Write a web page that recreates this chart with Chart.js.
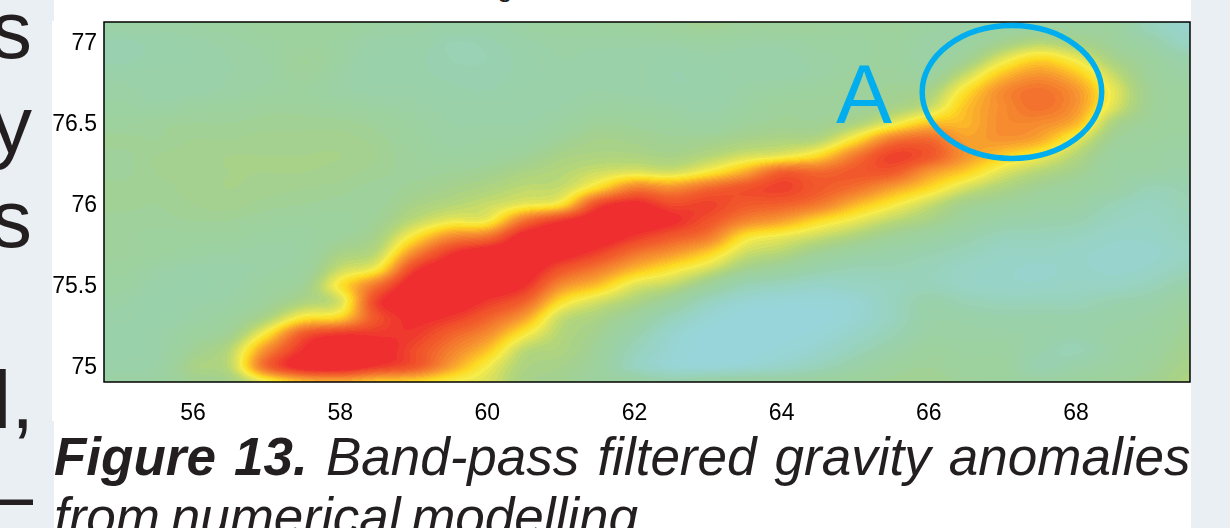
<!DOCTYPE html>
<html>
<head>
<meta charset="utf-8">
<title>Figure 13</title>
<script src="https://cdn.jsdelivr.net/npm/chart.js@4"></script>
<style>
html, body { margin: 0; padding: 0; background: #fff; overflow: hidden; }
#page { position: relative; width: 1230px; height: 528px; overflow: hidden; font-family: "Liberation Sans", Arial, sans-serif; color: #231f20; }
.side { position: absolute; background: #e9eff2; }
.txt { position: absolute; white-space: nowrap; line-height: 1; }
.big { font-size: 82px; }
.cap { font-size: 53px; font-style: italic; }
#chartBox { position: absolute; left: 0; top: 0; width: 1230px; height: 528px; }
</style>
</head>
<body>
<div id="page">
    <div class="side" style="left:0;top:0;width:54px;height:21px"></div>
    <div class="side" style="left:0;top:21px;width:52px;height:400px"></div>
    <div class="side" style="left:0;top:421px;width:54px;height:107px"></div>
    <div class="side" style="left:1191px;top:0;width:39px;height:528px"></div>

    <span class="txt big" style="left:-9px;top:-11px">s</span>
    <span class="txt big" style="left:-9px;top:84px">y</span>
    <span class="txt big" style="left:-9px;top:178px">s</span>
    <span class="txt big" style="left:-7px;top:359px">l,</span>
    <span class="txt big" style="left:-49px;top:454px">—</span>
    <span class="txt" style="left:497px;top:-27px;font-size:28px">g</span>

    <div id="chartBox"><canvas id="Chart1"></canvas></div>

    <span class="txt cap" id="capLine1" style="left:54px;top:430px;word-spacing:3.4px"><b>Figure 13.</b> Band-pass filtered gravity anomalies</span>
    <span class="txt cap" id="capLine2" style="left:54px;top:490px;word-spacing:-4px">from numerical modelling</span>
</div>

<script>
// tick labels
var xTicks = [56, 58, 60, 62, 64, 66, 68];
var yTicks = [75, 75.5, 76, 76.5, 77];

// grid positions
var gridX = [55, 55.5, 56, 56.5, 57, 57.5, 58, 58.5, 59, 59.5, 60, 60.5, 61, 61.5, 62, 62.5, 63, 63.5, 64, 64.5, 65, 65.5, 66, 66.5, 67, 67.5, 68, 68.5, 69, 69.5];
var gridY = [74.91, 75.01, 75.11, 75.21, 75.31, 75.41, 75.51, 75.61, 75.71, 75.81, 75.91, 76.01, 76.11, 76.21, 76.31, 76.41, 76.51, 76.61, 76.71, 76.81, 76.91, 77.01, 77.11];

// anomaly, one list per longitude, south to north (0 = blue, 100 = red)
var col550 = [24, 22, 20, 20, 22, 24, 26, 28, 30, 30, 30, 32, 32, 30, 30, 32, 28, 26, 24, 22, 18, 18, 24];
var col555 = [26, 24, 22, 22, 20, 20, 22, 24, 28, 28, 30, 31, 32, 33, 33, 31, 30, 24, 22, 22, 20, 20, 24];
var col560 = [32, 36, 32, 28, 24, 22, 20, 22, 26, 28, 31, 33, 34, 34, 34, 33, 31, 27, 22, 22, 21, 22, 25];
var col565 = [35, 42, 41, 33, 28, 24, 22, 22, 25, 28, 31, 34, 35, 35, 35, 33, 31, 28, 24, 23, 23, 24, 26];
var col570 = [50, 80, 72, 55, 38, 30, 27, 24, 24, 26, 29, 32, 34, 35, 35, 34, 32, 30, 26, 24, 25, 26, 28];
var col575 = [62, 98, 94, 84, 55, 38, 32, 28, 26, 26, 28, 31, 33, 35, 35, 34, 32, 30, 27, 30, 31, 28, 28];
var col580 = [65, 100, 100, 92, 60, 47, 55, 44, 36, 30, 28, 30, 32, 34, 35, 34, 32, 28, 24, 24, 26, 26, 28];
var col585 = [60, 92, 98, 92, 86, 90, 78, 54, 42, 36, 32, 30, 30, 32, 33, 32, 30, 26, 22, 20, 20, 22, 25];
var col590 = [58, 85, 88, 92, 95, 100, 100, 90, 72, 55, 42, 36, 32, 30, 29, 28, 26, 24, 22, 20, 20, 22, 24];
var col595 = [52, 68, 75, 82, 92, 100, 100, 100, 92, 72, 50, 40, 35, 31, 27, 24, 23, 22, 20, 18, 17, 17, 22];
var col600 = [47, 52, 62, 72, 82, 92, 100, 100, 100, 78, 52, 44, 38, 33, 28, 25, 23, 22, 19, 18, 17, 18, 22];
var col605 = [36, 38, 42, 54, 68, 82, 94, 100, 100, 98, 78, 50, 42, 37, 31, 26, 23, 22, 21, 20, 20, 22, 25];
var col610 = [33, 35, 38, 40, 44, 57, 72, 86, 98, 100, 92, 56, 44, 40, 36, 31, 26, 23, 22, 22, 23, 24, 27];
var col615 = [28, 28, 30, 33, 37, 46, 62, 76, 90, 100, 100, 88, 58, 45, 38, 35, 31, 26, 23, 22, 22, 24, 27];
var col620 = [26, 12, 14, 20, 28, 38, 48, 64, 78, 92, 100, 96, 75, 48, 38, 34, 30, 26, 22, 22, 22, 24, 28];
var col625 = [20, 4, 4, 6, 14, 28, 42, 55, 70, 84, 95, 88, 72, 46, 36, 32, 28, 24, 20, 19, 20, 24, 30];
var col630 = [24, 2, 0, 0, 4, 12, 30, 46, 60, 76, 86, 90, 80, 54, 40, 33, 26, 22, 20, 20, 22, 26, 32];
var col635 = [26, 4, 0, 0, 0, 4, 16, 34, 45, 56, 74, 84, 86, 66, 46, 36, 30, 26, 24, 22, 22, 24, 30];
var col640 = [26, 8, 2, 0, 0, 2, 12, 28, 40, 50, 68, 82, 90, 82, 50, 38, 32, 30, 26, 22, 22, 24, 30];
var col645 = [28, 14, 6, 2, 0, 2, 8, 20, 32, 44, 58, 76, 84, 80, 58, 40, 32, 30, 28, 24, 24, 26, 30];
var col650 = [30, 22, 14, 8, 4, 4, 10, 16, 26, 38, 50, 64, 78, 84, 76, 56, 38, 30, 30, 28, 26, 26, 28];
var col655 = [32, 28, 22, 16, 12, 12, 12, 16, 22, 31, 42, 54, 68, 84, 90, 76, 50, 36, 32, 30, 28, 28, 30];
var col660 = [33, 31, 28, 24, 22, 20, 14, 14, 18, 26, 36, 44, 58, 70, 85, 80, 62, 44, 36, 28, 24, 24, 26];
var col665 = [30, 28, 26, 24, 22, 16, 10, 10, 14, 20, 28, 34, 46, 60, 70, 68, 64, 62, 56, 44, 32, 26, 24];
var col670 = [28, 28, 26, 24, 20, 14, 8, 8, 10, 14, 22, 30, 38, 48, 60, 70, 72, 72, 72, 62, 48, 34, 26];
var col675 = [26, 18, 20, 22, 20, 14, 8, 6, 10, 14, 20, 26, 32, 40, 52, 66, 72, 78, 78, 70, 58, 40, 28];
var col680 = [28, 22, 16, 20, 20, 14, 10, 8, 8, 12, 18, 24, 28, 34, 40, 50, 64, 70, 70, 62, 50, 36, 28];
var col685 = [30, 26, 24, 24, 22, 18, 10, 6, 6, 8, 12, 16, 24, 26, 28, 32, 38, 48, 50, 44, 36, 30, 28];
var col690 = [33, 30, 28, 26, 24, 20, 14, 8, 6, 8, 10, 12, 16, 24, 26, 28, 30, 32, 32, 30, 28, 22, 14];
var col695 = [38, 36, 34, 32, 30, 26, 20, 14, 10, 12, 14, 16, 18, 22, 24, 26, 28, 28, 28, 24, 20, 10, 6];

var gridCols = [col550, col555, col560, col565, col570, col575, col580, col585, col590, col595,
    col600, col605, col610, col615, col620, col625, col630, col635, col640, col645,
    col650, col655, col660, col665, col670, col675, col680, col685, col690, col695];

// colour ramp
var rampVal = [0, 10, 20, 30, 35, 40, 48, 52, 58, 64, 70, 76, 82, 88, 94];
var rampCol = [[152, 213, 218], [152, 211, 196], [153, 209, 171], [158, 209, 155], [165, 209, 140], [180, 214, 122], [224, 226, 87], [246, 236, 74], [253, 219, 34], [251, 182, 42], [247, 149, 48], [244, 123, 46], [242, 96, 44], [240, 76, 43], [238, 46, 47]];

// circled area and its letter
var circleCenter = [67.13, 76.704];
var circleRadius = [1.22, 0.41];
var letterPos = [65.12, 76.512];
var letterText = 'A';
var markColor = '#00aeef';

function rampColor(v) {
    // contour bands, like the original plot
    v = Math.round(v / 2) * 2;
    if (v <= rampVal[0]) return rampCol[0];
    for (var i = 1; i < rampVal.length; i++) {
        if (v <= rampVal[i]) {
            var t = (v - rampVal[i - 1]) / (rampVal[i] - rampVal[i - 1]);
            var a = rampCol[i - 1], b = rampCol[i];
            return [a[0] + (b[0] - a[0]) * t, a[1] + (b[1] - a[1]) * t, a[2] + (b[2] - a[2]) * t];
        }
    }
    return rampCol[rampCol.length - 1];
}

function cr(p0, p1, p2, p3, t) {
    return p1 + 0.5 * t * (p2 - p0 + t * (2 * p0 - 5 * p1 + 4 * p2 - p3 + t * (3 * (p1 - p2) + p3 - p0)));
}

function pos(arr, val) {
    var step = arr[1] - arr[0];
    var f = (val - arr[0]) / step;
    return Math.max(0, Math.min(arr.length - 1, f));
}

function sample(x, y) {
    var fx = pos(gridX, x), fy = pos(gridY, y);
    var ix = Math.min(Math.floor(fx), gridX.length - 2), iy = Math.min(Math.floor(fy), gridY.length - 2);
    var tx = fx - ix, ty = fy - iy;
    var rows = [];
    for (var k = -1; k <= 2; k++) {
        var j = Math.max(0, Math.min(gridY.length - 1, iy + k));
        var c = [];
        for (var m = -1; m <= 2; m++) {
            var i = Math.max(0, Math.min(gridX.length - 1, ix + m));
            c.push(gridCols[i][j]);
        }
        rows.push(cr(c[0], c[1], c[2], c[3], tx));
    }
    return cr(rows[0], rows[1], rows[2], rows[3], ty);
}

// paints the gridded field under the frame, going through the chart scales
var heatPlugin = {
    id: 'heat',
    beforeDatasetsDraw: function (chart) {
        var ctx = chart.ctx, area = chart.chartArea;
        var xs = chart.scales.x, ys = chart.scales.y;
        var w = Math.round(area.right - area.left), h = Math.round(area.bottom - area.top);
        var img = ctx.createImageData(w, h);
        for (var py = 0; py < h; py++) {
            var yVal = ys.getValueForPixel(area.top + py + 0.5);
            for (var px = 0; px < w; px++) {
                var xVal = xs.getValueForPixel(area.left + px + 0.5);
                var col = rampColor(sample(xVal, yVal));
                var o = (py * w + px) * 4;
                img.data[o] = col[0];
                img.data[o + 1] = col[1];
                img.data[o + 2] = col[2];
                img.data[o + 3] = 255;
            }
        }
        ctx.putImageData(img, Math.round(area.left), Math.round(area.top));
    },
    afterDatasetsDraw: function (chart) {
        var ctx = chart.ctx, area = chart.chartArea;
        var xs = chart.scales.x, ys = chart.scales.y;
        ctx.save();
        ctx.strokeStyle = '#000';
        ctx.lineWidth = 1.5;
        ctx.strokeRect(area.left, area.top, area.right - area.left, area.bottom - area.top);

        var cx = xs.getPixelForValue(circleCenter[0]), cy = ys.getPixelForValue(circleCenter[1]);
        var rx = xs.getPixelForValue(circleCenter[0] + circleRadius[0]) - cx;
        var ry = cy - ys.getPixelForValue(circleCenter[1] + circleRadius[1]);
        ctx.strokeStyle = markColor;
        ctx.lineWidth = 5.5;
        ctx.beginPath();
        ctx.ellipse(cx, cy, rx, ry, 0, 0, Math.PI * 2);
        ctx.stroke();

        ctx.fillStyle = markColor;
        ctx.font = '84px "Liberation Sans"';
        ctx.textAlign = 'center';
        ctx.textBaseline = 'alphabetic';
        ctx.fillText(letterText, xs.getPixelForValue(letterPos[0]), ys.getPixelForValue(letterPos[1]));
        ctx.restore();
    }
};

function drawChart() {
    var cells = [];
    for (var i = 0; i < gridX.length; i++) {
        for (var j = 0; j < gridY.length; j++) {
            cells.push({ x: gridX[i], y: gridY[j], v: gridCols[i][j] });
        }
    }

    var ctx1 = document.getElementById('Chart1');
    new Chart(ctx1, {
        type: 'scatter',
        data: {
            datasets: [{
                label: 'Band-pass filtered gravity anomalies',
                data: cells,
                pointRadius: 0,
            }],
        },
        plugins: [heatPlugin],
        options: {
            responsive: true,
            maintainAspectRatio: false,
            animation: false,
            layout: {
                padding: { top: 22, right: 40, left: 0, bottom: 0 },
            },
            plugins: {
                legend: { display: false },
                tooltip: { enabled: false },
            },
            scales: {
                x: {
                    type: 'linear',
                    min: 54.79,
                    max: 69.55,
                    grid: { display: false, drawTicks: false },
                    border: { display: false },
                    afterBuildTicks: function (scale) {
                        scale.ticks = xTicks.map(function (v) { return { value: v }; });
                    },
                    afterFit: function (scale) { scale.height = 146; },
                    ticks: {
                        padding: 18,
                        maxRotation: 0,
                        autoSkip: false,
                        color: '#000',
                        font: { family: '"Liberation Sans"', size: 23 },
                        callback: function (value) { return String(value); },
                    },
                },
                y: {
                    type: 'linear',
                    min: 74.914,
                    max: 77.136,
                    grid: { display: false, drawTicks: false },
                    border: { display: false },
                    afterBuildTicks: function (scale) {
                        scale.ticks = yTicks.map(function (v) { return { value: v }; });
                    },
                    afterFit: function (scale) { scale.width = 104; },
                    ticks: {
                        padding: 7,
                        autoSkip: false,
                        color: '#000',
                        font: { family: '"Liberation Sans"', size: 23 },
                        callback: function (value) { return String(value); },
                    },
                },
            },
        },
    });
}

drawChart();
</script>
</body>
</html>
